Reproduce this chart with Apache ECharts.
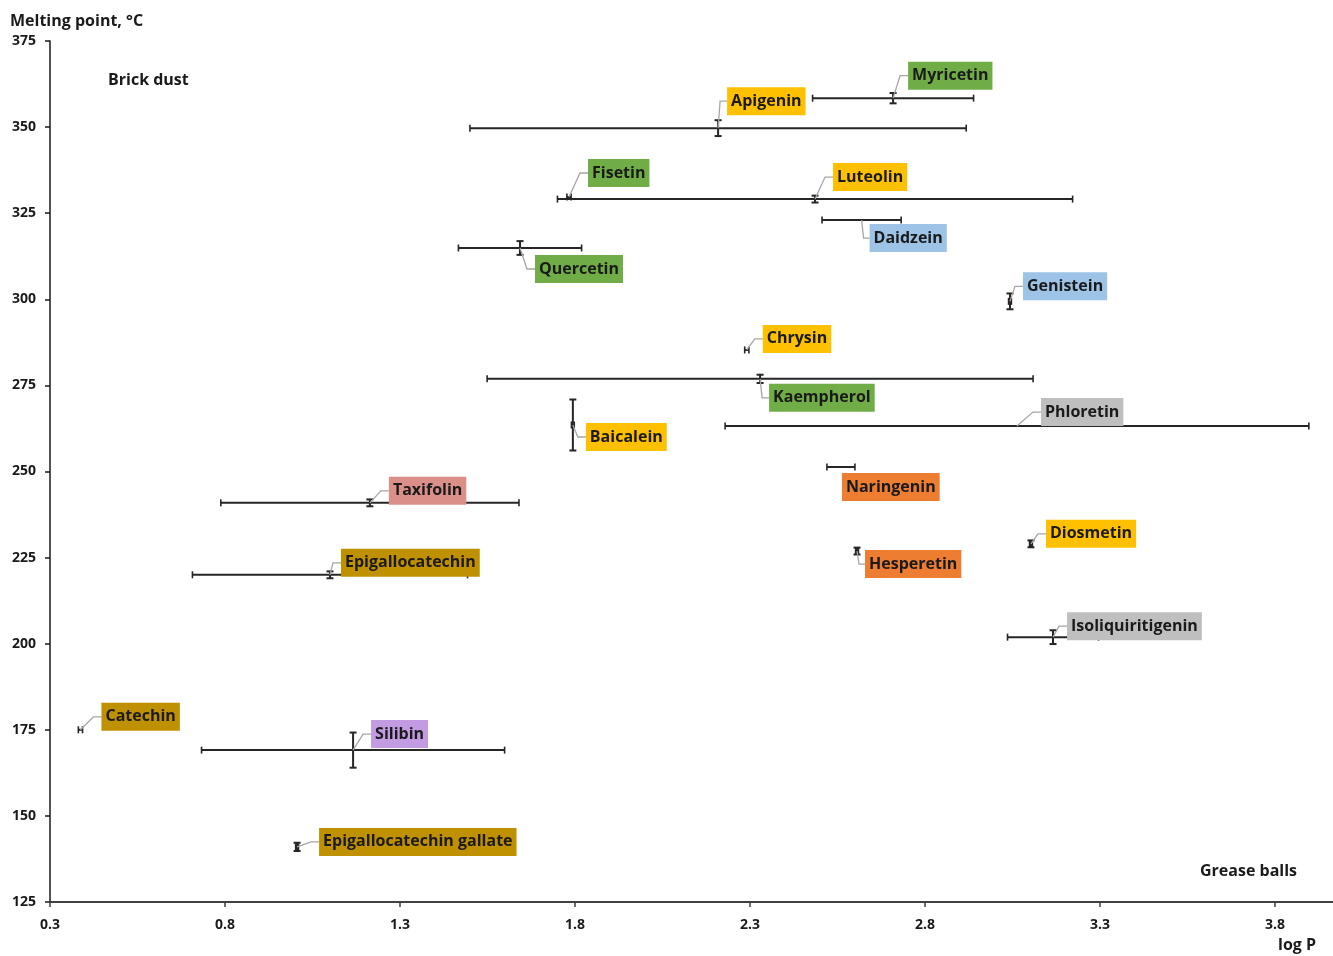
<!DOCTYPE html>
<html>
<head>
<meta charset="utf-8">
<script src="https://cdn.jsdelivr.net/npm/echarts@6/dist/echarts.min.js"></script>
<style>
  html, body { margin: 0; padding: 0; background: #ffffff; }
  #chart { width: 1333px; height: 956px; }
</style>
</head>
<body>
<div id="chart"></div>
<script>
// Flavonoids: lipophilicity (log P) against melting point, with spread of reported values
const compounds = [
  'Myricetin', 'Apigenin', 'Fisetin', 'Luteolin', 'Daidzein', 'Quercetin', 'Genistein',
  'Chrysin', 'Kaempherol', 'Phloretin', 'Baicalein', 'Naringenin', 'Taxifolin',
  'Epigallocatechin', 'Diosmetin', 'Hesperetin', 'Isoliquiritigenin', 'Catechin',
  'Silibin', 'Epigallocatechin gallate'
];
const logP = [
  2.709, 2.209, 1.783, 2.486, 2.619, 1.643, 3.043,
  2.291, 2.329, 3.063, 1.794, 2.560, 1.214,
  1.100, 3.103, 2.606, 3.166, 0.387,
  1.166, 1.006
];
const meltingPoint = [
  358.4, 349.7, 329.7, 329.1, 323.0, 314.9, 299.4,
  285.3, 276.9, 263.2, 263.5, 251.3, 240.9,
  220.0, 229.0, 226.9, 201.9, 175.0,
  169.1, 141.0
];
const logPErr = [
  0.230, 0.709, 0.006, 0.736, 0.113, 0.176, 0.004,
  0.006, 0.780, 0.834, 0.004, 0.040, 0.426,
  0.393, 0.004, 0.004, 0.130, 0.006,
  0.433, 0.004
];
const meltingPointErr = [
  1.5, 2.3, 0, 1.0, 0, 2.0, 2.3,
  0, 1.2, 0, 7.4, 0, 1.0,
  1.0, 1.0, 1.0, 2.0, 0,
  5.1, 1.2
];
// flavonoid subclass of each compound (sets the label colour)
const subclass = [
  'flavonol', 'flavone', 'flavonol', 'flavone', 'isoflavone', 'flavonol', 'isoflavone',
  'flavone', 'flavonol', 'chalcone', 'flavone', 'flavanone', 'flavanonol',
  'flavanol', 'flavone', 'flavanone', 'chalcone', 'flavanol',
  'flavonolignan', 'flavanol'
];
const xTicks = [0.3, 0.8, 1.3, 1.8, 2.3, 2.8, 3.3, 3.8];
const yTicks = [125, 150, 175, 200, 225, 250, 275, 300, 325, 350, 375];

// --- presentation ---
const subclassColors = {
  flavonol: '#70AD47', flavone: '#FFC000', isoflavone: '#9DC3E6', chalcone: '#BFBFBF',
  flavanone: '#ED7D31', flavanonol: '#DA8F88', flavanol: '#BF9000', flavonolignan: '#C39BE3'
};
// label box placement: pixel offset of the box's left-middle from the data point
const labelOffsets = [
  [15, -22.5], [9, -27], [19, -24], [18, -22], [8, 18], [15, 21], [13, -15],
  [16, -11], [9, 19], [24, -14], [13, 12], [1, 20], [19, -12],
  [11, -12], [15, -10], [8, 13], [14, -11], [21, -13],
  [18, -16], [22, -5]
];
const noLeader = { 'Naringenin': true };

const FONT = "'Open Sans', sans-serif";
const ink = '#262626';

const points = compounds.map((name, i) => [logP[i], meltingPoint[i], logPErr[i], meltingPointErr[i], i]);

function renderErrorBars(params, api) {
  const x = api.value(0), y = api.value(1), ex = api.value(2), ey = api.value(3);
  const cap = 3.5;
  const style = { stroke: ink, lineWidth: 2 };
  const children = [];
  if (ex > 0) {
    const l = api.coord([x - ex, y]), r = api.coord([x + ex, y]);
    children.push({ type: 'line', shape: { x1: l[0], y1: l[1], x2: r[0], y2: r[1] }, style });
    children.push({ type: 'line', shape: { x1: l[0], y1: l[1] - cap, x2: l[0], y2: l[1] + cap }, style: { stroke: ink, lineWidth: 1.6 } });
    children.push({ type: 'line', shape: { x1: r[0], y1: r[1] - cap, x2: r[0], y2: r[1] + cap }, style: { stroke: ink, lineWidth: 1.6 } });
  }
  if (ey > 0) {
    const t = api.coord([x, y + ey]), b = api.coord([x, y - ey]);
    children.push({ type: 'line', shape: { x1: t[0], y1: t[1], x2: b[0], y2: b[1] }, style });
    children.push({ type: 'line', shape: { x1: t[0] - cap, y1: t[1], x2: t[0] + cap, y2: t[1] }, style });
    children.push({ type: 'line', shape: { x1: b[0] - cap, y1: b[1], x2: b[0] + cap, y2: b[1] }, style });
  }
  return { type: 'group', children };
}

function renderLabels(params, api) {
  const i = api.value(4);
  const p = api.coord([api.value(0), api.value(1)]);
  const off = labelOffsets[i];
  const bx = p[0] + off[0], by = p[1] + off[1];
  const children = [];
  if (!noLeader[compounds[i]]) {
    const knee = Math.min(8, Math.max(2, off[0] - 2));
    children.push({
      type: 'polyline',
      shape: { points: [[p[0], p[1]], [bx - knee, by], [bx, by]] },
      style: { stroke: '#A6A6A6', lineWidth: 1.3, fill: null }
    });
  }
  children.push({
    type: 'text',
    x: bx, y: by,
    style: {
      text: compounds[i],
      fill: '#1a1a1a',
      fontFamily: FONT, fontWeight: 'bold', fontSize: 16, lineHeight: 19,
      align: 'left', verticalAlign: 'middle',
      backgroundColor: subclassColors[subclass[i]],
      padding: [5, 4, 4, 4]
    }
  });
  return { type: 'group', children };
}

const chart = echarts.init(document.getElementById('chart'), null, { renderer: 'canvas' });
chart.setOption({
  animation: false,
  backgroundColor: '#ffffff',
  grid: { left: 50, right: 0, top: 41, bottom: 54, containLabel: false },
  xAxis: {
    type: 'value', min: 0.3, max: 3.966,
    splitLine: { show: false },
    axisLine: { onZero: false, lineStyle: { color: '#404040', width: 2 } },
    axisTick: { show: true, length: 5, lineStyle: { color: '#404040', width: 1.5 }, customValues: xTicks },
    axisLabel: {
      customValues: xTicks, margin: 16,
      formatter: v => v.toFixed(1),
      color: '#1a1a1a', fontFamily: FONT, fontWeight: 'bold', fontSize: 14
    }
  },
  yAxis: {
    type: 'value', min: 125, max: 375, interval: 25,
    splitLine: { show: false },
    axisLine: { show: true, onZero: false, lineStyle: { color: '#1a1a1a', width: 1.5 } },
    axisTick: { show: true, length: 5, lineStyle: { color: '#1a1a1a', width: 1.5 } },
    axisLabel: { margin: 14, color: '#1a1a1a', fontFamily: FONT, fontWeight: 'bold', fontSize: 14 }
  },
  graphic: [
    { type: 'text', left: 10, top: 13, style: { text: 'Melting point, °C', fill: '#1a1a1a', font: "bold 16px " + FONT } },
    { type: 'text', left: 1278, top: 937, style: { text: 'log P', fill: '#1a1a1a', font: "bold 16px " + FONT } },
    { type: 'text', left: 108, top: 72, style: { text: 'Brick dust', fill: '#1a1a1a', font: "bold 16px " + FONT } },
    { type: 'text', left: 1200, top: 863, style: { text: 'Grease balls', fill: '#1a1a1a', font: "bold 16px " + FONT } }
  ],
  series: [
    { type: 'custom', name: 'spread', data: points, renderItem: renderErrorBars, z: 2, clip: false },
    { type: 'custom', name: 'labels', data: points, renderItem: renderLabels, z: 3, clip: false }
  ]
});
</script>
</body>
</html>
